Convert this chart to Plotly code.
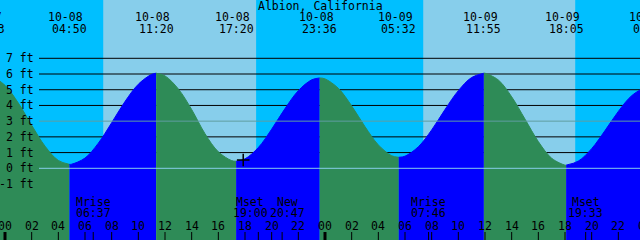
import plotly.graph_objects as go

# ---------------- data ----------------
title_text = "Albion, California"

# tide extremes (date, clock, height ft)
tide_dates = ["10-07", "10-08", "10-08", "10-08", "10-08", "10-09", "10-09", "10-09", "10-10"]
tide_clock = ["22:43", "04:50", "11:20", "17:20", "23:36", "05:32", "11:55", "18:05", "00:24"]
tide_heights = [5.87, 0.25, 6.05, 0.45, 5.75, 0.70, 6.05, 0.20, 5.20]

# hourly readings of the curve (hours from 10-08 00:00)
hour_marks = list(range(-1, 49))
hour_heights = [5.84, 5.28, 4.15, 2.74, 1.41, 0.50,
                0.26, 0.65, 1.60, 2.90, 4.25, 5.35, 5.98,
                5.88, 5.05, 3.74, 2.20, 1.05, 0.49,
                0.60, 1.32, 2.49, 3.80, 4.94, 5.63,
                5.69, 5.09, 3.97, 2.65, 1.49, 0.80,
                0.77, 1.37, 2.44, 3.74, 4.94, 5.78,
                6.05, 5.62, 4.55, 3.13, 1.70, 0.64, 0.20,
                0.46, 1.25, 2.40, 3.62, 4.62, 5.14]

# moon events
moon_names = ["Mrise", "Mset", "New", "Mrise", "Mset"]
moon_dates = ["10-08", "10-08", "10-08", "10-09", "10-09"]
moon_clock = ["06:37", "19:00", "20:47", "07:46", "19:33"]
moon_label_shift = [0, -8, 5, 0, 0]  # px, label de-overlap

# sun (daylight intervals)
sunrise = [("10-08", "07:22"), ("10-09", "07:22")]
sunset = [("10-08", "18:50"), ("10-09", "18:46")]

# ft tick labels
ft_levels = [-1, 0, 1, 2, 3, 4, 5, 6, 7]
hour_ticks = list(range(0, 50, 2))

# "+" marker
mark_date, mark_clock, mark_height = "10-08", "17:52", 0.53

# ---------------- style ----------------
NIGHT = "#00BFFF"
DAY = "#87CEEB"
EBB = "#2E8B57"
FLOOD = "#0000FF"
FONT = dict(family="DejaVu Sans Mono", size=11.5, color="black")
W, H = 640, 240
X0, X1 = -0.375, 47.625
Y0, Y1 = -4.563, 10.71


def hrs(d, c):
    day = int(d.split("-")[1]) - 8
    hh, mm = c.split(":")
    return day * 24 + int(hh) + int(mm) / 60.0


def xpos(t):
    if X0 <= t <= X1:
        return dict(xref="x", x=t)
    return dict(xref="paper", x=(t - X0) / (X1 - X0))


def ypx(p):
    return 1 - p / H


tide_t = [hrs(d, c) for d, c in zip(tide_dates, tide_clock)]
pts = sorted(zip(hour_marks + tide_t, hour_heights + tide_heights))

fig = go.Figure()

for i in range(len(tide_t) - 1):
    a, b = tide_t[i], tide_t[i + 1]
    seg = [(t, h) for t, h in pts if a - 1e-6 <= t <= b + 1e-6]
    col = EBB if tide_heights[i] > tide_heights[i + 1] else FLOOD
    fig.add_trace(go.Scatter(x=[a, b], y=[Y0, Y0], mode="lines",
                             line=dict(width=0), showlegend=False, hoverinfo="skip"))
    fig.add_trace(go.Scatter(x=[p[0] for p in seg], y=[p[1] for p in seg], mode="lines",
                             line=dict(width=1, color=col, shape="spline"),
                             fill="tonexty", fillcolor=col,
                             showlegend=False, hoverinfo="skip"))

fig.add_trace(go.Scatter(x=[hrs(mark_date, mark_clock)], y=[mark_height], mode="markers",
                         marker=dict(symbol="cross-thin", size=9,
                                     line=dict(width=1.5, color="black")),
                         showlegend=False, hoverinfo="skip"))

shapes = []
for (d1, c1), (d2, c2) in zip(sunrise, sunset):
    shapes.append(dict(type="rect", xref="x", yref="paper", x0=hrs(d1, c1), x1=hrs(d2, c2),
                       y0=0, y1=1, fillcolor=DAY, line=dict(width=0), layer="below"))
for k in ft_levels:
    if k in (-1, 0, 3):
        continue
    shapes.append(dict(type="line", xref="paper", yref="y", x0=39 / W, x1=1, y0=k, y1=k,
                       line=dict(color="black", width=1), layer="below"))
shapes.append(dict(type="line", xref="paper", yref="y", x0=39 / W, x1=1, y0=0, y1=0,
                   line=dict(color="#87CEEB", width=1), layer="above"))
shapes.append(dict(type="line", xref="paper", yref="y", x0=39 / W, x1=1, y0=3, y1=3,
                   line=dict(color="#5F9EA0", width=1), layer="above"))
for t in hour_ticks:
    if t > X1:
        continue
    shapes.append(dict(type="line", xref="x", yref="paper", x0=t, x1=t, y0=0, y1=8 / H,
                       line=dict(color="black", width=3 if t % 24 == 0 else 1), layer="above"))
for d, c in zip(moon_dates, moon_clock):
    t = hrs(d, c)
    shapes.append(dict(type="line", xref="x", yref="paper", x0=t, x1=t, y0=0, y1=8 / H,
                       line=dict(color="black", width=1), layer="above"))

ann = []
ann.append(dict(xref="paper", x=0.5, yref="paper", y=ypx(6), text=title_text,
                showarrow=False, font=FONT, xanchor="center", yanchor="middle"))
for d, c, t in zip(tide_dates, tide_clock, tide_t):
    ann.append(dict(**xpos(t), yref="paper", y=ypx(17.5), text=d, xshift=-3.5,
                    showarrow=False, font=FONT, xanchor="center", yanchor="middle"))
    ann.append(dict(**xpos(t), yref="paper", y=ypx(29), text=c,
                    showarrow=False, font=FONT, xanchor="center", yanchor="middle"))
for k in ft_levels:
    ann.append(dict(xref="paper", x=35.5 / W, yref="y", y=k, text=f"{k} ft",
                    showarrow=False, font=FONT, xanchor="right", yanchor="middle"))
for t in hour_ticks:
    ann.append(dict(**xpos(t), yref="paper", y=ypx(226), text=f"{t % 24:02d}",
                    showarrow=False, font=FONT, xanchor="center", yanchor="middle"))
for n, d, c, s in zip(moon_names, moon_dates, moon_clock, moon_label_shift):
    t = hrs(d, c)
    ann.append(dict(**xpos(t), yref="paper", y=ypx(202), text=n, xshift=s,
                    showarrow=False, font=FONT, xanchor="center", yanchor="middle"))
    ann.append(dict(**xpos(t), yref="paper", y=ypx(213), text=c, xshift=s,
                    showarrow=False, font=FONT, xanchor="center", yanchor="middle"))

fig.update_layout(
    width=W, height=H, margin=dict(l=0, r=0, t=0, b=0, pad=0),
    paper_bgcolor=NIGHT, plot_bgcolor=NIGHT,
    xaxis=dict(range=[X0, X1], visible=False, fixedrange=True),
    yaxis=dict(range=[Y0, Y1], visible=False, fixedrange=True),
    shapes=shapes, annotations=ann, showlegend=False,
)

fig.write_html("out.html")
